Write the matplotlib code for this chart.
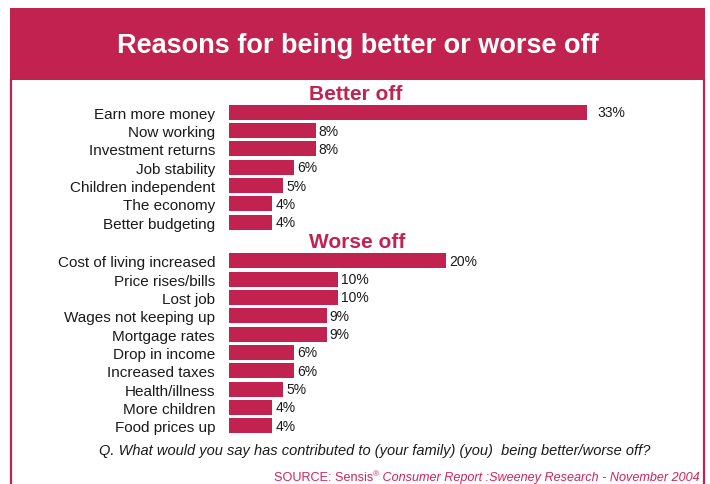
import matplotlib
matplotlib.use("Agg")
import matplotlib.pyplot as plt
import numpy as np
from matplotlib.patches import Rectangle
from matplotlib.lines import Line2D

plt.rcParams['font.family'] = ['Liberation Sans', 'DejaVu Sans']

better_labels = ["Earn more money", "Now working", "Investment returns", "Job stability",
                 "Children independent", "The economy", "Better budgeting"]
better_vals = [33, 8, 8, 6, 5, 4, 4]

worse_labels = ["Cost of living increased", "Price rises/bills", "Lost job",
                "Wages not keeping up", "Mortgage rates", "Drop in income",
                "Increased taxes", "Health/illness", "More children", "Food prices up"]
worse_vals = [20, 10, 10, 9, 9, 6, 6, 5, 4, 4]

title = "Reasons for being better or worse off"
question = "Q. What would you say has contributed to (your family) (you)  being better/worse off?"

RED = '#C1224F'
SRC = '#D0245A'
TXT = '#1a1a1a'

W, H = 710, 485
fig = plt.figure(figsize=(W / 100, H / 100), dpi=100)

def fx(px):
    return px / W

def fy(py):
    return 1 - py / H

# header band and side borders
fig.patches.append(Rectangle((fx(10), fy(81)), fx(695), 72 / H, transform=fig.transFigure,
                             facecolor=RED, edgecolor='none', zorder=0))
for xb in (11, 704):
    fig.lines.append(Line2D([fx(xb), fx(xb)], [fy(81), 0], transform=fig.transFigure,
                            color=RED, lw=1.6))
fig.text(fx(358), fy(46), title, color='white', fontsize=19.5, fontweight='bold',
         ha='center', va='center')

# bars
ax = fig.add_axes([fx(229), fy(440), fx(663 - 229), (440 - 85) / H])
ax.set_facecolor('none')
pos_b = np.arange(len(better_vals))
pos_w = 8.1 + np.arange(len(worse_vals))
pos = np.concatenate([pos_b, pos_w])
vals = better_vals + worse_vals
ax.barh(pos, vals, height=0.82, color=RED)
for p, v in zip(pos, vals):
    pad = 10 if v == max(vals) else 3
    ax.annotate(f"{v}%", (v, p), xytext=(pad * 0.72, 0), textcoords='offset points',
                va='center', ha='left', fontsize=10, color=TXT)
ax.set_xlim(0, 40)
ax.set_ylim((440 - 113.3) / 18.33, (85 - 113.3) / 18.33)
ax.set_yticks(pos)
ax.set_yticklabels(better_labels + worse_labels, fontsize=11, color=TXT)
ax.tick_params(axis='y', length=0, pad=10)
ax.set_xticks([])
for s in ax.spines.values():
    s.set_visible(False)

fig.text(fx(356), fy(94), "Better off", color=RED, fontsize=15, fontweight='bold',
         ha='center', va='center')
fig.text(fx(357), fy(243), "Worse off", color=RED, fontsize=15, fontweight='bold',
         ha='center', va='center')

fig.text(fx(375), fy(451), question, fontsize=10.5, style='italic', color=TXT,
         ha='center', va='center')

# source line: plain + superscript + italic
y0 = fy(481)
t1 = fig.text(fx(700), y0, " Consumer Report :Sweeney Research - November 2004",
              fontsize=9.1, style='italic', color=SRC, ha='right', va='baseline')
t2 = plt.annotate("®", xy=(0, y0 + 5 / H), xycoords=(t1, 'figure fraction'),
                  fontsize=6, color=SRC, ha='right', va='baseline')
plt.annotate("SOURCE: Sensis", xy=(0, y0), xycoords=(t2, 'figure fraction'),
             fontsize=9.1, color=SRC, ha='right', va='baseline')

fig.savefig("out.png", dpi=100)
